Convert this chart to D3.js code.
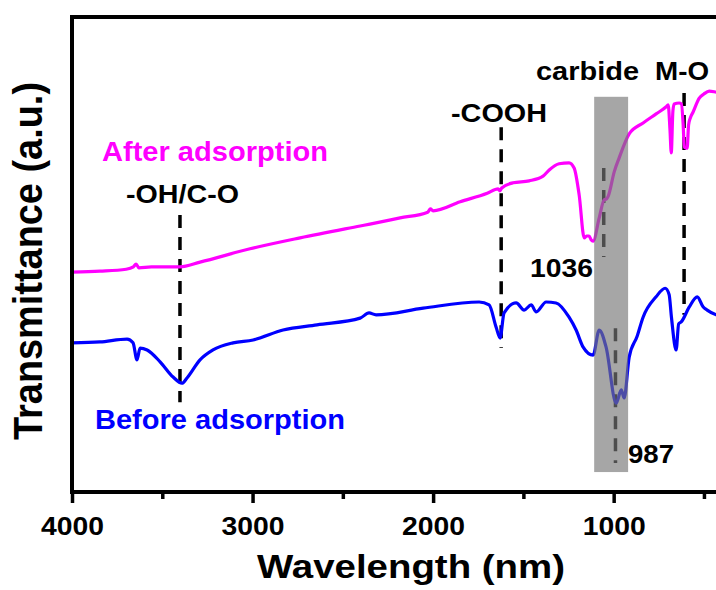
<!DOCTYPE html>
<html>
<head>
<meta charset="utf-8">
<script src="https://cdn.jsdelivr.net/npm/d3@7"></script>
<style>
  body { margin: 0; background: #fff; }
  text { font-family: "Liberation Sans", Arial, sans-serif; font-weight: bold; }
</style>
</head>
<body>
<div id="chart"></div>
<script>
// spectra (wavenumber, transmittance a.u.)
var afterWn = [4000,3845,3700,3660,3645,3630,3560,3402,3291,3014,2737,2404,2350,2183,2030,2015,2000,1850,1700,1640,1630,1620,1557,1468,1391,1357,1302,1247,1219,1191,1163,1150,1136,1125,1114,1080,1053,1040,1030,997,970,914,837,765,709,698,688,681,672,665,637,625,615,609,593,585,576,560,526,500,471,432,400];
var afterT  = [46.3,46.5,46.9,47.4,48.0,47.2,47.4,47.4,48.4,51.2,53.5,56.0,56.4,57.7,58.9,59.6,59.2,61.1,62.9,63.8,63.4,64.0,65.1,65.5,66.5,67.8,69.1,69.3,68.2,62.5,53.5,53.9,53.9,53.1,52.8,57.7,61.5,61.7,62.3,67.4,70.3,75.4,77.7,79.6,81.1,81.5,76.2,71.4,80.2,81.7,81.9,81.7,77.3,72.6,72.4,77.3,78.7,80.0,82.9,83.8,84.4,84.2,84.0];

var beforeWn = [4000,3845,3695,3662,3640,3623,3584,3512,3440,3391,3363,3291,3219,3108,2997,2831,2643,2404,2355,2316,2055,1745,1690,1651,1629,1607,1540,1496,1457,1429,1374,1319,1247,1208,1169,1114,1080,1042,986,958,942,914,870,837,765,715,693,680,654,640,626,582,537,505,482,432,400];
var beforeT  = [31.4,31.6,32.2,31.4,27.8,30.3,29.9,27.4,24.2,22.9,24.0,27.8,29.9,31.4,32.0,34.1,35.2,36.6,37.7,37.3,38.7,40.0,39.4,34.7,32.4,37.7,39.8,38.3,39.4,37.9,40.0,39.8,36.8,34.1,30.5,28.8,34.1,30.5,18.7,21.5,19.8,28.4,32.8,36.8,41.1,42.9,41.6,36.8,29.9,35.4,35.8,38.9,41.1,39.0,38.3,37.3,37.0];

var majorTicks = [4000, 3000, 2000, 1000];
var minorTicks = [3500, 2500, 1500, 500];

// carbide band (wavenumber range, T range)
var bandWn = [1108, 920];
var bandT = [83.2, 4.2];

// dashed peak markers: wavenumber, T from, T to
var markWn = [3402, 1623, 1055, 990, 610];
var markT0 = [58.3, 76.8, 68.2, 34.5, 84.0];
var markT1 = [18.9, 30.3, 49.5, 6.1, 37.3];

// labels: text, x, baseline y, size, width, colour
var labels = [
  ["After adsorption", 102, 161, 27, 226, "#ff00ff"],
  ["-OH/C-O", 126, 203, 25, 113, "#000"],
  ["-COOH", 451, 122, 26, 96, "#000"],
  ["carbide", 536, 80, 25, 103, "#000"],
  ["M-O", 655, 80, 25, 54, "#000"],
  ["1036", 530, 277, 26, 63, "#000"],
  ["987", 628, 463, 26, 46, "#000"],
  ["Before adsorption", 95, 429, 27, 250, "#0000ff"]
];

var width = 716, height = 590;
var svg = d3.select("#chart").append("svg")
  .attr("width", width).attr("height", height);

var x = d3.scaleLinear().domain([4000, 400]).range([72, 722]);
var y = d3.scaleLinear().domain([0, 100]).range([492, 17]);

var line = d3.line()
  .x(function(d) { return x(d[0]); })
  .y(function(d) { return y(d[1]); })
  .curve(d3.curveMonotoneX);

// dashed markers
markWn.forEach(function(w, i) {
  svg.append("line")
    .attr("x1", x(w)).attr("x2", x(w))
    .attr("y1", y(markT0[i])).attr("y2", y(markT1[i]))
    .attr("stroke", "#000").attr("stroke-width", 3.5)
    .attr("stroke-dasharray", "13,9");
});

// spectra
svg.append("path")
  .datum(d3.zip(afterWn, afterT))
  .attr("d", line).attr("fill", "none")
  .attr("stroke", "#ff00ff").attr("stroke-width", 3.2);

svg.append("path")
  .datum(d3.zip(beforeWn, beforeT))
  .attr("d", line).attr("fill", "none")
  .attr("stroke", "#0000ff").attr("stroke-width", 3.2);

// grey band drawn over the lines
svg.append("rect")
  .attr("x", x(bandWn[0])).attr("width", x(bandWn[1]) - x(bandWn[0]))
  .attr("y", y(bandT[0])).attr("height", y(bandT[1]) - y(bandT[0]))
  .attr("fill", "#777").attr("opacity", 0.65);

// x axis
var xAxis = svg.append("g")
  .attr("transform", "translate(0,492)")
  .call(d3.axisBottom(x).tickValues(majorTicks).tickSize(11).tickPadding(14).tickFormat(d3.format("d")));
xAxis.select(".domain").remove();
xAxis.selectAll(".tick line").attr("stroke-width", 3.5);
xAxis.selectAll(".tick text")
  .attr("font-size", 26).attr("fill", "#000")
  .attr("textLength", 63).attr("lengthAdjust", "spacingAndGlyphs");

var xMinor = svg.append("g")
  .attr("transform", "translate(0,492)")
  .call(d3.axisBottom(x).tickValues(minorTicks).tickSize(7).tickFormat(""));
xMinor.select(".domain").remove();
xMinor.selectAll(".tick line").attr("stroke-width", 3.5);

// frame: left, bottom, top
svg.append("line").attr("x1", 72).attr("x2", 72).attr("y1", 15.5).attr("y2", 494)
  .attr("stroke", "#000").attr("stroke-width", 4);
svg.append("line").attr("x1", 70).attr("x2", 722).attr("y1", 492).attr("y2", 492)
  .attr("stroke", "#000").attr("stroke-width", 4);
svg.append("line").attr("x1", 70).attr("x2", 722).attr("y1", 17).attr("y2", 17)
  .attr("stroke", "#000").attr("stroke-width", 4);

// annotations
labels.forEach(function(l) {
  svg.append("text")
    .attr("x", l[1]).attr("y", l[2])
    .attr("font-size", l[3]).attr("fill", l[5])
    .attr("textLength", l[4]).attr("lengthAdjust", "spacingAndGlyphs")
    .text(l[0]);
});

// axis titles
svg.append("text")
  .attr("x", 257).attr("y", 578)
  .attr("font-size", 34)
  .attr("textLength", 308).attr("lengthAdjust", "spacingAndGlyphs")
  .text("Wavelength (nm)");

svg.append("text")
  .attr("transform", "translate(42,261) rotate(-90)")
  .attr("text-anchor", "middle")
  .attr("font-size", 40)
  .attr("textLength", 358).attr("lengthAdjust", "spacingAndGlyphs")
  .text("Transmittance (a.u.)");
</script>
</body>
</html>
